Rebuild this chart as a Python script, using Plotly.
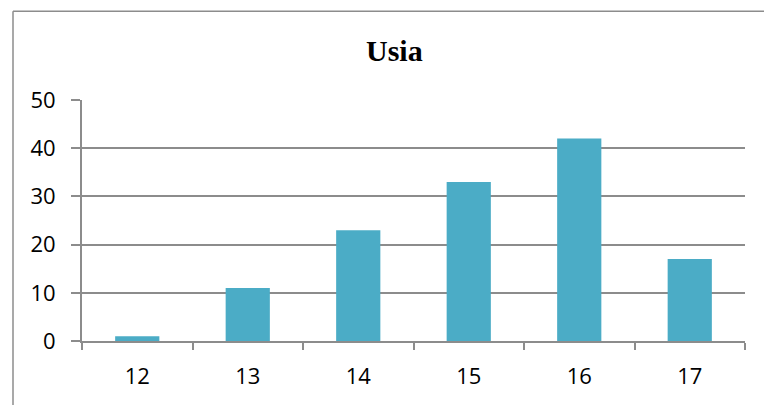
import plotly.graph_objects as go

categories = ["12", "13", "14", "15", "16", "17"]
values = [1, 11, 23, 33, 42, 17]
y_ticks = [0, 10, 20, 30, 40, 50]

W, H = 764, 405
L, R, T, B = 82, 19, 100, 63.5
pw, ph = W - L - R, H - T - B

def px_x(px):
    return (px - L) / pw

def px_y(py):
    return (H - B - py) / ph

grid = "#8c8c8c"

fig = go.Figure(go.Bar(
    x=categories, y=values, marker=dict(color="#4BACC6", line=dict(width=0)),
))

fig.update_layout(
    width=W, height=H,
    margin=dict(l=L, r=R, t=T, b=B, pad=0),
    paper_bgcolor="white", plot_bgcolor="white",
    bargap=0.6, showlegend=False,
    font=dict(family="Open Sans", size=22, color="#000000"),
    xaxis=dict(
        type="category", showgrid=False, showline=True, linecolor=grid, linewidth=2,
        ticks="outside", tickson="boundaries", ticklen=7, tickwidth=2, tickcolor=grid,
        ticklabelstandoff=15, zeroline=False,
    ),
    yaxis=dict(
        range=[0, 50], tickvals=y_ticks, showgrid=True, gridcolor=grid, gridwidth=2,
        showline=True, linecolor=grid, linewidth=2, ticks="outside", ticklen=9,
        tickwidth=2, tickcolor=grid, ticklabelstandoff=11, zeroline=False,
    ),
    annotations=[dict(
        text="<b>Usia</b>", x=px_x(394), y=px_y(50), xref="paper", yref="paper",
        xanchor="center", yanchor="middle", showarrow=False,
        font=dict(family="Liberation Serif", size=30, color="#000000"),
    )],
    shapes=[
        dict(type="line", xref="paper", yref="paper", x0=px_x(13), x1=px_x(13),
             y0=px_y(11), y1=px_y(420), line=dict(color=grid, width=1.5)),
        dict(type="line", xref="paper", yref="paper", x0=px_x(13), x1=px_x(780),
             y0=px_y(11), y1=px_y(11), line=dict(color=grid, width=1.5)),
    ],
)

fig.write_html("out.html")
